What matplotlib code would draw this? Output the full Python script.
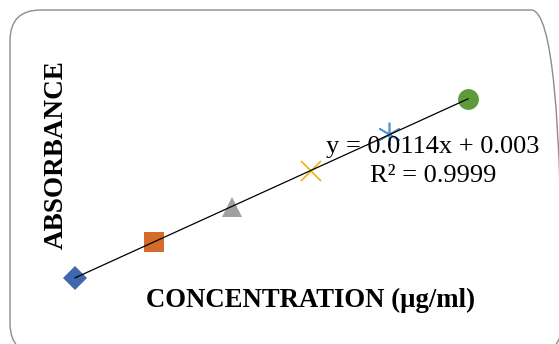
import matplotlib.pyplot as plt
from matplotlib.patches import FancyBboxPatch
import numpy as np

# calibration data
conc = [10, 20, 30, 40, 50, 60]
absorb = [0.117, 0.233, 0.344, 0.458, 0.576, 0.686]
markers = ['D', 's', '^', 'x', (6, 2, 0), 'o']
colors = ['#3F66AE', '#D36B2A', '#A0A0A0', '#EBB30F', '#5B93CC', '#5F9A3C']
sizes = [12, 15, 15, 15, 17, 15]

fig = plt.figure(figsize=(5.59, 3.44), dpi=100)

# rounded border of the chart area
frame = FancyBboxPatch((10 / 559, -10 / 344), 552 / 559, 344 / 344,
                       boxstyle='round,pad=0,rounding_size=0.055',
                       transform=fig.transFigure, facecolor='none',
                       edgecolor='#8C8C8C', linewidth=1.0,
                       mutation_aspect=559 / 344)
fig.patches.append(frame)

ax = fig.add_axes([0, 0, 1, 1])
ax.set_xlim(0.46, 71.58)
ax.set_ylim(-0.093, 1.002)
ax.axis('off')

# trendline
m, b = np.polyfit(conc, absorb, 1)
xs = np.array([conc[0], conc[-1]])
ax.plot(xs, m * xs + b, color='black', linewidth=0.9, zorder=2)

for x, y, mk, c, s in zip(conc, absorb, markers, colors, sizes):
    lw = 1.2 if mk in ('x', (6, 2, 0)) else 0
    ax.plot(x, y, marker=mk, color=c, markersize=s, markeredgewidth=lw,
            linestyle='none', zorder=1)

serif = 'Liberation Serif'
fig.text(433 / 559, 1 - 147 / 344, 'y = 0.0114x + 0.003', family=serif,
         fontsize=19, ha='center', va='center')
fig.text(433 / 559, 1 - 176 / 344, 'R² = 0.9999', family=serif,
         fontsize=19, ha='center', va='center')

fig.text(311 / 559, 1 - 300 / 344, 'CONCENTRATION (µg/ml)', family=serif,
         fontsize=19.3, fontweight='bold', ha='center', va='center')
fig.text(56 / 559, 1 - 155 / 344, 'ABSORBANCE', family=serif,
         fontsize=19.5, fontweight='bold', ha='center', va='center', rotation=90)

fig.savefig('out.png', dpi=100)
